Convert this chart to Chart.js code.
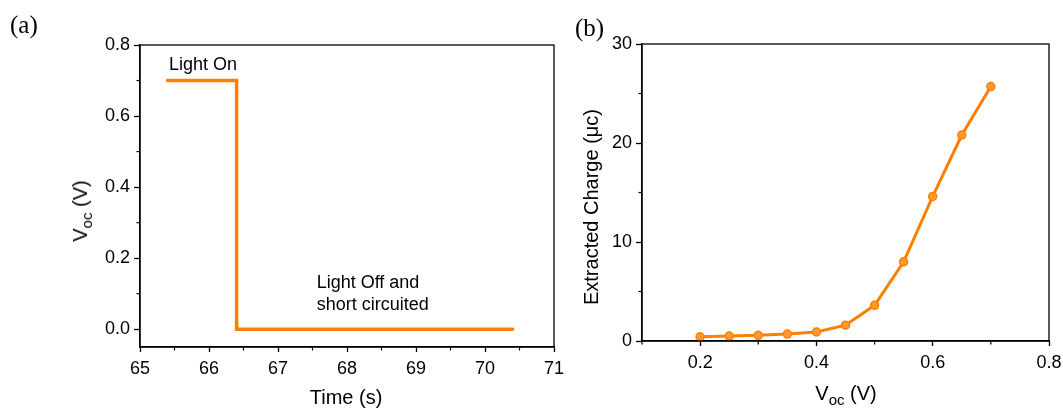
<!DOCTYPE html>
<html>
<head>
<meta charset="utf-8">
<script src="https://cdn.jsdelivr.net/npm/chart.js@4.4.0/dist/chart.umd.min.js"></script>
<style>
    body { margin: 0; background: #fff; }
    #wrap { position: relative; width: 1063px; height: 410px; overflow: hidden; font-family: Arial, "Liberation Sans", sans-serif; }
    canvas { position: absolute; top: 0; }
    #chartA { left: 0; }
    #chartB { left: 600px; }
    .lbl { position: absolute; white-space: nowrap; color: #000; line-height: 1; }
    .panel { font-family: "Times New Roman", "Liberation Serif", serif; font-size: 25px; }
    .ttl { font-size: 20px; transform: translate(-50%, -50%); }
    .rot { transform: translate(-50%, -50%) rotate(-90deg); }
    sub { font-size: 15px; vertical-align: -5px; line-height: 0; }
</style>
</head>
<body>
<div id="wrap">
    <canvas id="chartA" width="600" height="410"></canvas>
    <canvas id="chartB" width="480" height="410"></canvas>
    <div class="lbl panel" style="left:10px; top:12px;">(a)</div>
    <div class="lbl panel" style="left:575px; top:15px;">(b)</div>
    <div class="lbl ttl" style="left:346px; top:397px;">Time (s)</div>
    <div class="lbl ttl rot" style="left:80px; top:211px;">V<sub>oc</sub> (V)</div>
    <div class="lbl ttl" style="left:846px; top:393px;">V<sub>oc</sub> (V)</div>
    <div class="lbl ttl rot" style="left:591px; top:207px;">Extracted Charge (&mu;c)</div>
</div>
<script>
// (a) Voc transient
const timeS = [65.4, 66.4, 66.4, 70.4];
const vocTransient = [0.7, 0.7, 0, 0];

// (b) extracted charge vs Voc
const vocLevels = [0.2, 0.25, 0.3, 0.35, 0.4, 0.45, 0.5, 0.55, 0.6, 0.65, 0.7];
const chargeUC = [0.43, 0.5, 0.57, 0.7, 0.91, 1.6, 3.6, 8.0, 14.6, 20.8, 25.7];

const orange = "#FF8000";
const tickFont = { family: "Arial, 'Liberation Sans', sans-serif", size: 18 };

// frame round the plot area
const framePlugin = {
    id: "frame",
    afterDraw(chart) {
        const a = chart.chartArea, ctx = chart.ctx;
        ctx.save();
        ctx.strokeStyle = "#000";
        ctx.lineWidth = 1.3;
        ctx.strokeRect(a.left, a.top, a.right - a.left, a.bottom - a.top);
        ctx.restore();
    }
};

// small ticks between the labelled ones
const minorTicksPlugin = {
    id: "minorTicks",
    afterDraw(chart, args, opts) {
        const ctx = chart.ctx, a = chart.chartArea;
        ctx.save();
        ctx.strokeStyle = "#000";
        ctx.lineWidth = 1.2;
        ["x", "y"].forEach(id => {
            const scale = chart.scales[id];
            const step = opts[id];
            if (!scale || !step) return;
            const major = scale.ticks.map(t => Math.round(t.value / step));
            for (let k = Math.ceil(scale.min / step - 1e-6); k * step <= scale.max + 1e-9; k++) {
                if (major.includes(k)) continue;
                const p = scale.getPixelForValue(k * step);
                ctx.beginPath();
                if (id === "x") { ctx.moveTo(p, a.bottom); ctx.lineTo(p, a.bottom + 3.5); }
                else { ctx.moveTo(a.left, p); ctx.lineTo(a.left - 3.5, p); }
                ctx.stroke();
            }
        });
        ctx.restore();
    }
};

// text notes placed in data units
const notesPlugin = {
    id: "notes",
    afterDatasetsDraw(chart, args, opts) {
        if (!opts.items) return;
        const ctx = chart.ctx;
        ctx.save();
        ctx.fillStyle = "#000";
        ctx.font = "18px Arial, 'Liberation Sans', sans-serif";
        ctx.textBaseline = "middle";
        ctx.textAlign = "left";
        opts.items.forEach(n => {
            ctx.fillText(n.text, chart.scales.x.getPixelForValue(n.x), chart.scales.y.getPixelForValue(n.y));
        });
        ctx.restore();
    }
};

function axis(min, max, step, fmt, fitSize, isX) {
    return {
        type: "linear",
        min: min,
        max: max,
        border: { display: true, color: "#000", width: 1.4 },
        grid: { drawOnChartArea: false, drawTicks: true, tickLength: isX ? 5 : 6, tickColor: "#000", tickWidth: 1.3 },
        ticks: { stepSize: step, includeBounds: false, color: "#000", font: tickFont, padding: isX ? 6 : 4, maxRotation: 0, autoSkip: false, callback: fmt },
        afterFit(scale) {
            if (isX) scale.height = fitSize; else scale.width = fitSize;
        }
    };
}

const chartA = new Chart(document.getElementById("chartA"), {
    type: "line",
    data: {
        datasets: [{
            data: timeS.map((t, i) => ({ x: t, y: vocTransient[i] })),
            borderColor: orange,
            borderWidth: 3.5,
            pointRadius: 0,
            tension: 0,
            borderCapStyle: "round"
        }]
    },
    options: {
        responsive: false,
        animation: false,
        layout: { padding: { left: 0, top: 45, right: 46, bottom: 0 } },
        plugins: {
            legend: { display: false },
            tooltip: { enabled: false },
            minorTicks: { x: 0.5, y: 0.1 },
            notes: {
                items: [
                    { x: 65.42, y: 0.745, text: "Light On" },
                    { x: 67.56, y: 0.129, text: "Light Off and" },
                    { x: 67.56, y: 0.067, text: "short circuited" }
                ]
            }
        },
        scales: {
            x: axis(65, 71, 1, v => v.toFixed(0), 63, true),
            y: axis(-0.05, 0.8, 0.2, v => v.toFixed(1), 140, false)
        }
    },
    plugins: [framePlugin, minorTicksPlugin, notesPlugin]
});

const chartB = new Chart(document.getElementById("chartB"), {
    type: "line",
    data: {
        datasets: [{
            data: vocLevels.map((v, i) => ({ x: v, y: chargeUC[i] })),
            borderColor: orange,
            borderWidth: 3,
            pointRadius: 4,
            pointBackgroundColor: "#FF9A33",
            pointBorderColor: orange,
            pointBorderWidth: 1.5,
            tension: 0
        }]
    },
    options: {
        responsive: false,
        animation: false,
        layout: { padding: { left: 0, top: 44, right: 31, bottom: 0 } },
        plugins: {
            legend: { display: false },
            tooltip: { enabled: false },
            minorTicks: { x: 0.1, y: 5 }
        },
        scales: {
            x: axis(0.1, 0.8, 0.2, v => v.toFixed(1), 69, true),
            y: axis(0, 30, 10, v => v.toFixed(0), 42, false)
        }
    },
    plugins: [framePlugin, minorTicksPlugin]
});
</script>
</body>
</html>
